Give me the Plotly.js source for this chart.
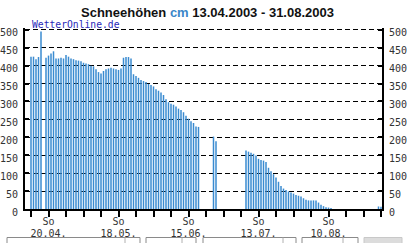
<!DOCTYPE html>
<html>
<head>
<meta charset="utf-8">
<script src="https://cdn.plot.ly/plotly-3.0.1.min.js"></script>
<style>
html,body{margin:0;padding:0;background:#fff;}
#chart{width:415px;height:243px;}
</style>
</head>
<body>
<div id="chart"></div>
<script>
// ---- data ----
const startDate = '2003-04-13';
// snow depth (cm), one value per day from 13.04.2003 to 31.08.2003 (null = no report)
const snowDepth = [
  425, 425, 418, 424, 495, null, 422, 428, 434, 440,
  420, 420, 422, 420, 430, 425, 420, 418, 415, 414,
  412, 408, 406, 404, 400, 398, 390, 382, 378, 385,
  390, 392, 394, 392, 390, 388, 392, 422, 424, 424,
  420, 376, 371, 366, 360, 357, 354, 349, 346, 342,
  334, 330, 325, 318, 306, 298, 294, 291, 286, 280,
  276, 270, 260, 252, 245, 240, 230, 229, null, null,
  null, null, null, 202, 189, null, null, null, null, null,
  null, null, null, null, null, null, 163, 160, 157, 154,
  149, 140, 137, 135, 131, 115, 105, 97, 88, 76,
  64, 57, 53, 49, 46, 43, 39, 37, 35, 30,
  26, 24, 24, 24, 24, 18, 12, 8, 5, 4,
  3, null, null, null, null, null, null, null, null, null,
  null, null, null, null, null, null, null, null, null, 7,
  6
];
const tickDates = ['2003-04-13','2003-04-20','2003-04-27','2003-05-04','2003-05-11','2003-05-18',
  '2003-05-25','2003-06-01','2003-06-08','2003-06-15','2003-06-22','2003-06-29','2003-07-06',
  '2003-07-13','2003-07-20','2003-07-27','2003-08-03','2003-08-10','2003-08-17','2003-08-24','2003-08-31'];
const dateLabels = ['','20.04.','','','','18.05.','','','','15.06.','','','',
  '13.07.','','','','10.08.','','',''];
const weekdayLabels = ['','So','','','','So','','','','So','','','',
  'So','','','','So','','',''];
const yTicks = [0,50,100,150,200,250,300,350,400,450,500];
const titleText = '<b>Schneehöhen <span style="color:#3a86c8">cm</span> 13.04.2003 - 31.08.2003</b>';
const sourceText = 'WetterOnline.de';

// ---- build dates ----
const DAY = 86400000;
const t0 = Date.parse(startDate + 'T00:00:00Z');
function iso(ms){ return new Date(ms).toISOString().slice(0,19).replace('T',' '); }
const dates = snowDepth.map((v,i)=> iso(t0 + i*DAY));
const xRange = [iso(t0 - 2.4*DAY), iso(t0 + 140.4*DAY)];

// ---- layout geometry ----
const W = 415, H = 243;
const L = 25, R = 33, T = 28, B = 34;
const pw = W - L - R, ph = H - T - B;
function px(x){ return (x - L)/pw; }
function py(y){ return (H - B - y)/ph; }

const tickFont = {family:'DejaVu Sans Mono', size:10, color:'#333'};

const trace = {
  type:'bar', x: dates, y: snowDepth,
  width: 0.6*DAY,
  marker:{color:'#3a8bd0', line:{width:0}},
  hoverinfo:'skip'
};
const dummyY2 = {type:'scatter', x:[dates[0]], y:[null], yaxis:'y2', showlegend:false, hoverinfo:'skip'};
const dummyX2 = {type:'scatter', x:[dates[0]], y:[null], xaxis:'x2', showlegend:false, hoverinfo:'skip'};

const boxes = [[7,140,125],[146,196,182],[203,296,283],[302,358,343]];
const shapes = [];
boxes.forEach(b=>{
  shapes.push({type:'rect', layer:'below', xref:'paper', yref:'paper', x0:px(b[0]), x1:px(b[1]), y0:py(246), y1:py(237.5),
    line:{color:'#8a8a8a', width:1}, fillcolor:'#ffffff'});
  shapes.push({type:'line', layer:'below', xref:'paper', yref:'paper', x0:px(b[2]), x1:px(b[2]), y0:py(246), y1:py(237.5),
    line:{color:'#b0b0b0', width:1}});
});
shapes.push({type:'rect', layer:'below', xref:'paper', yref:'paper', x0:px(364), x1:px(402), y0:py(246), y1:py(237.5),
  line:{color:'#c8c8c8', width:1}, fillcolor:'#dcdcdc'});

const layout = {
  width: W, height: H,
  margin:{l:L, r:R, t:T, b:B, pad:0},
  paper_bgcolor:'#ffffff', plot_bgcolor:'#ffffff',
  showlegend:false,
  bargap:0.4,
  title:{text:titleText, font:{family:'Liberation Sans', size:13, color:'#111'},
    x:0.5, xanchor:'center', y:1-12/H, yanchor:'middle', yref:'container'},
  xaxis:{
    type:'date', range: xRange,
    tickmode:'array', tickvals: tickDates, ticktext: dateLabels,
    ticks:'outside', ticklen:6, tickwidth:2, tickcolor:'#000',
    showline:true, linewidth:2, linecolor:'#000',
    showgrid:false, zeroline:false,
    tickfont: tickFont, tickangle:0, ticklabelstandoff:8
  },
  xaxis2:{
    type:'date', range: xRange, overlaying:'x', side:'bottom', anchor:'y',
    tickmode:'array', tickvals: tickDates, ticktext: weekdayLabels,
    ticks:'outside', ticklen:6, tickwidth:0, tickcolor:'rgba(0,0,0,0)',
    showline:false, showgrid:false, zeroline:false,
    tickfont: tickFont, tickangle:0, ticklabelstandoff:-3
  },
  yaxis:{
    range:[0,505], tickmode:'array', tickvals:yTicks,
    ticks:'inside', ticklen:4, tickwidth:2, tickcolor:'#000',
    showline:true, linewidth:2, linecolor:'#000',
    showgrid:true, gridcolor:'#000', gridwidth:1, griddash:'5px,3px',
    zeroline:false, tickfont: tickFont, ticklabelshift:3, ticklabelstandoff:3
  },
  yaxis2:{
    overlaying:'y', side:'right', range:[0,505], tickmode:'array', tickvals:yTicks,
    ticks:'inside', ticklen:4, tickwidth:2, tickcolor:'#000',
    showline:true, linewidth:2, linecolor:'#000',
    showgrid:false, zeroline:false, tickfont: tickFont, ticklabelshift:3, ticklabelstandoff:3
  },
  annotations:[{
    text: sourceText, xref:'paper', yref:'paper', x:px(30), y:py(24),
    xanchor:'left', yanchor:'middle', showarrow:false,
    font:{family:'DejaVu Sans Mono', size:9.7, color:'#2a2ab8'}
  }],
  shapes: shapes
};

Plotly.newPlot('chart', [trace, dummyY2, dummyX2], layout, {staticPlot:true, displayModeBar:false});
</script>
</body>
</html>
